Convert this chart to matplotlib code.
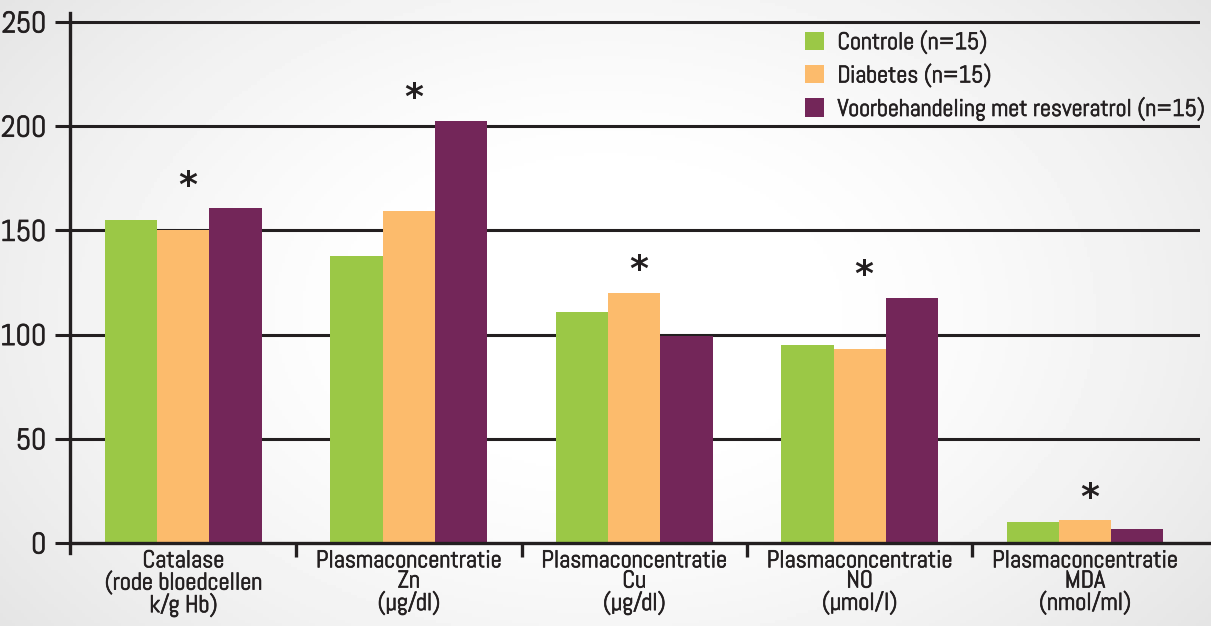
import numpy as np
import matplotlib
matplotlib.use("Agg")
import matplotlib.pyplot as plt
import matplotlib.patheffects as pe
from matplotlib.patches import Patch

categories = [
    "Catalase\n(rode bloedcellen\nk/g Hb)",
    "Plasmaconcentratie\nZn\n(µg/dl)",
    "Plasmaconcentratie\nCu\n(µg/dl)",
    "Plasmaconcentratie\nNO\n(µmol/l)",
    "Plasmaconcentratie\nMDA\n(nmol/ml)",
]
series_names = [
    "Controle (n=15)",
    "Diabetes (n=15)",
    "Voorbehandeling met resveratrol (n=15)",
]
controle = [155, 137.7, 110.8, 95, 10]
diabetes = [150.3, 159.3, 120, 93, 11]
resveratrol = [160.7, 202.5, 99.3, 117.6, 6.7]
significant = [True, True, True, True, True]
yticks = [0, 50, 100, 150, 200, 250]

colors = ["#9bc846", "#fcbb6c", "#732659"]
ink = "#231f20"

plt.rcParams["font.family"] = ["Abel", "DejaVu Sans"]
# Abel is a light face; a thin outline in the same ink gives it more weight
heavy = [pe.withStroke(linewidth=0.5, foreground=ink)]

W, H = 1211, 626
fig = plt.figure(figsize=(W / 100, H / 100), dpi=100)

# soft grey vignette behind the whole chart
bg = fig.add_axes([0, 0, 1, 1], zorder=-10)
gx, gy = np.meshgrid(np.linspace(-1, 1, 400), np.linspace(-1, 1, 200))
r = np.sqrt((gx / 1.0) ** 2 + (gy / 1.3) ** 2)
shade = 1.0 - 0.11 * np.clip(r - 0.3, 0, None) ** 1.4
bg.imshow(shade, cmap="gray", vmin=0, vmax=1, aspect="auto", extent=[0, 1, 0, 1])
bg.set_axis_off()

ax = fig.add_axes([70 / W, (H - 553) / H, (1200 - 70) / W, 540 / H])
ax.patch.set_alpha(0)

x = np.arange(len(categories))
bw = 0.2316
series = [controle, diabetes, resveratrol]
for i, (vals, col, name) in enumerate(zip(series, colors, series_names)):
    ax.bar(x + (i - 1) * bw, vals, width=bw, color=col, label=name, zorder=3, linewidth=0)

ax.set_xlim(-0.503, 4.51)
ax.set_ylim(-4.8, 254.3)

# horizontal rules at each tick value
for v in yticks[1:]:
    ax.axhline(v, color=ink, lw=2.2, zorder=1)
ax.axhline(0, color=ink, lw=2.4, zorder=4, xmax=1.2, clip_on=False)

for s in ["top", "right", "bottom"]:
    ax.spines[s].set_visible(False)
ax.spines["left"].set_linewidth(2.4)
ax.spines["left"].set_color(ink)

ax.set_yticks(yticks)
ax.set_yticklabels([str(v) for v in yticks], fontsize=21.5, color=ink)
for t in ax.get_yticklabels():
    t.set_path_effects(heavy)
ax.tick_params(axis="y", length=11, width=2.2, color=ink, pad=6, direction="out")
ax.set_xticks([])

# group separators below the baseline
for sep in x[:-1] + 0.5:
    ax.plot([sep, sep], [0, -6.7], color=ink, lw=2.4, clip_on=False, zorder=4,
            solid_capstyle="butt")

for xi, lab in zip(x, categories):
    ax.text(xi, -4.0, lab, ha="center", va="top", fontsize=17.5, color=ink,
            linespacing=0.95, path_effects=heavy)

# significance markers above the diabetes bars
for xi, sig, a, b, c in zip(x, significant, controle, diabetes, resveratrol):
    if sig:
        top = max(a, b, c)
        ax.annotate("*", (xi + 0.02, top), xytext=(0, 4), textcoords="offset points",
                    ha="center", va="bottom", fontsize=26, fontweight="bold",
                    color=ink, family="DejaVu Sans")

handles = [Patch(facecolor=c, edgecolor="none") for c in colors]
leg = ax.legend(handles, series_names, loc="upper left",
                bbox_to_anchor=(805 / W, 1 - 31 / H), bbox_transform=fig.transFigure,
                frameon=False, fontsize=17.3, handlelength=0.8, handleheight=0.8,
                handletextpad=0.55, labelspacing=0.42, borderpad=0, borderaxespad=0,
                labelcolor=ink)
for t in leg.get_texts():
    t.set_path_effects(heavy)

fig.savefig("out.png", dpi=100)
